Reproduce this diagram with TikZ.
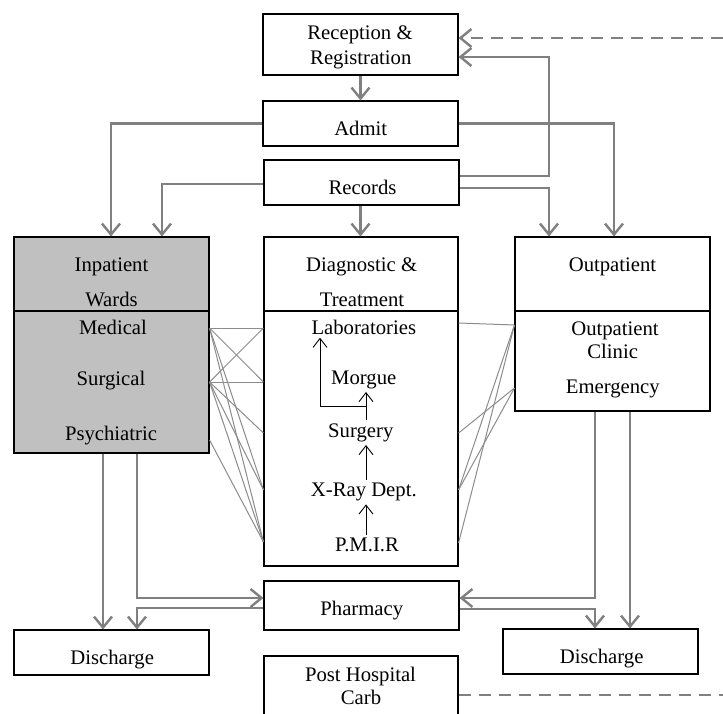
\documentclass[tikz,border=0pt]{standalone}
\usepackage{fontspec}
\setmainfont{Liberation Serif}
\usetikzlibrary{arrows.meta,calc}
\definecolor{lnk}{RGB}{128,128,128}
\definecolor{fanc}{RGB}{140,140,140}
\definecolor{ward}{RGB}{192,192,192}
\begin{document}
\begin{tikzpicture}[x=1pt,y=-1pt,
  font=\fontsize{20.7pt}{25pt}\selectfont,
  box/.style={draw=black, line width=1.1pt, inner sep=0pt, fill=white},
  txt/.style={anchor=base, inner sep=3pt},
  conn/.style={draw=lnk, line width=2.4pt, -{Straight Barb[length=11pt,width=18pt]}},
  dashlink/.style={draw=lnk, line width=2.4pt, dash pattern=on 12pt off 8pt},
  fan/.style={draw=fanc, line width=1pt},
  innerarrow/.style={draw=black, line width=0.9pt, -{Straight Barb[length=9pt,width=14pt]}},
  divider/.style={draw=black, line width=1.1pt}
]
\useasboundingbox (0,0) rectangle (723,713);
\clip (0,0) rectangle (723,713);
\fill[white] (0,0) rectangle (723,713);

% boxes
\node[box, minimum width=195pt, minimum height=61pt] (rec) at (360.5,44.5) {};
\node[box, minimum width=195pt, minimum height=45pt] (adm) at (360.5,123.5) {};
\node[box, minimum width=195pt, minimum height=45pt] (rcd) at (361.5,182.5) {};
\node[box, fill=ward, minimum width=195pt, minimum height=216pt] (inp) at (111.5,345) {};
\node[box, minimum width=194pt, minimum height=329pt] (dia) at (361,401.5) {};
\node[box, minimum width=195pt, minimum height=174pt] (out) at (612.5,324) {};
\node[box, minimum width=195pt, minimum height=49pt] (pha) at (361.5,605.5) {};
\node[box, minimum width=195pt, minimum height=45pt] (dis1) at (111.5,652.5) {};
\node[box, minimum width=195pt, minimum height=45pt] (dis2) at (600.5,651.5) {};
\node[box, minimum width=194pt, minimum height=62pt] (post) at (361,687) {};

% compartment dividers
\draw[divider] (inp.west |- 0,311) -- (inp.east |- 0,311);
\draw[divider] (dia.west |- 0,311) -- (dia.east |- 0,311);
\draw[divider] (out.west |- 0,311) -- (out.east |- 0,311);

% texts
\node[txt] (recA) at (360,39.3) {Reception \&};
\node[txt] (recB) at (360.8,64.3) {Registration};
\node[txt] (admT) at (360.7,135) {Admit};
\node[txt] (rcdT) at (362.5,194.3) {Records};
\node[txt] (inpA) at (111.5,271.7) {Inpatient};
\node[txt] (inpB) at (111.5,306) {Wards};
\node[txt] (med) at (113,334) {Medical};
\node[txt] (sur) at (111,385.7) {Surgical};
\node[txt] (psy) at (111,440) {Psychiatric};
\node[txt] (diaA) at (361.7,271.7) {Diagnostic \&};
\node[txt] (diaB) at (362,306) {Treatment};
\node[txt] (labs) at (363.8,334.3) {Laboratories};
\node[txt] (morg) at (363.8,384.3) {Morgue};
\node[txt] (surg) at (360.8,437.3) {Surgery};
\node[txt] (xray) at (363.8,496.7) {X-Ray Dept.};
\node[txt] (pmir) at (367,551.7) {P.M.I.R};
\node[txt] (outA) at (612.5,271.7) {Outpatient};
\node[txt] (outB) at (615,335) {Outpatient};
\node[txt] (clin) at (612.7,358.3) {Clinic};
\node[txt] (emer) at (612.8,393.3) {Emergency};
\node[txt] (phaT) at (361.8,615) {Pharmacy};
\node[txt] (dis1T) at (112.2,664) {Discharge};
\node[txt] (dis2T) at (601.7,663.3) {Discharge};
\node[txt] (postA) at (360.5,681) {Post Hospital};
\node[txt] (postB) at (361,704.3) {Carb};

% main gray connectors
\draw[conn] (rec.south) -- (adm.north);
\draw[conn] (adm.west) -| (inp.north -| 111,0);
\draw[conn] (rcd.west |- 0,184) -| (inp.north -| 162,0);
\draw[conn] (adm.east) -| (out.north -| 614,0);
\draw[conn] (rcd.east |- 0,176) -- (549,176) |- (rec.east |- 0,57);
\draw[conn] (rcd.east |- 0,188) -| (out.north -| 549,0);
\draw[conn] (rcd.south -| 360.5,0) -- (dia.north -| 360.5,0);
\coordinate (feedin) at (723,38);
\draw[conn, dash pattern=on 12pt off 8pt] (feedin) -- (rec.east |- feedin);

\draw[conn] (inp.south -| 103,0) -- (dis1.north -| 103,0);
\draw[conn] (inp.south -| 137,0) |- (pha.west |- 0,598);
\draw[conn] (pha.west |- 0,608) -| (dis1.north -| 137,0);
\draw[conn] (out.south -| 595,0) |- (pha.east |- 0,598);
\draw[conn] (out.south -| 630,0) -- (dis2.north -| 630,0);
\draw[conn] (pha.east |- 0,609) -| (dis2.north -| 595,0);
\coordinate (feedout) at (723,695);
\draw[dashlink] (post.east |- feedout) -- (feedout);

% thin links ward <-> diagnostic
\foreach \a/\b in {328/328, 382/382, 328/382, 382/328, 328/490, 328/542, 382/433, 382/490, 382/542, 440/542}
  \draw[fan] (inp.east |- 0,\a) -- (dia.west |- 0,\b);
% thin links diagnostic <-> outpatient
\foreach \a/\b in {323/325, 490/325, 543/325, 433/388, 490/388}
  \draw[fan] (dia.east |- 0,\a) -- (out.west |- 0,\b);

% inner flow in diagnostic
\draw[innerarrow] (pmir.north -| 366,0) -- (xray.south -| 366,0);
\draw[innerarrow] (xray.north -| 366,0) -- (surg.south -| 366,0);
\draw[innerarrow] (surg.north -| 366,0) -- (morg.south -| 366,0);
\draw[innerarrow] ($(surg.north -| 366,0)!0.5!(morg.south -| 366,0)$) -| (labs.south -| 320,0);
\end{tikzpicture}
\end{document}
